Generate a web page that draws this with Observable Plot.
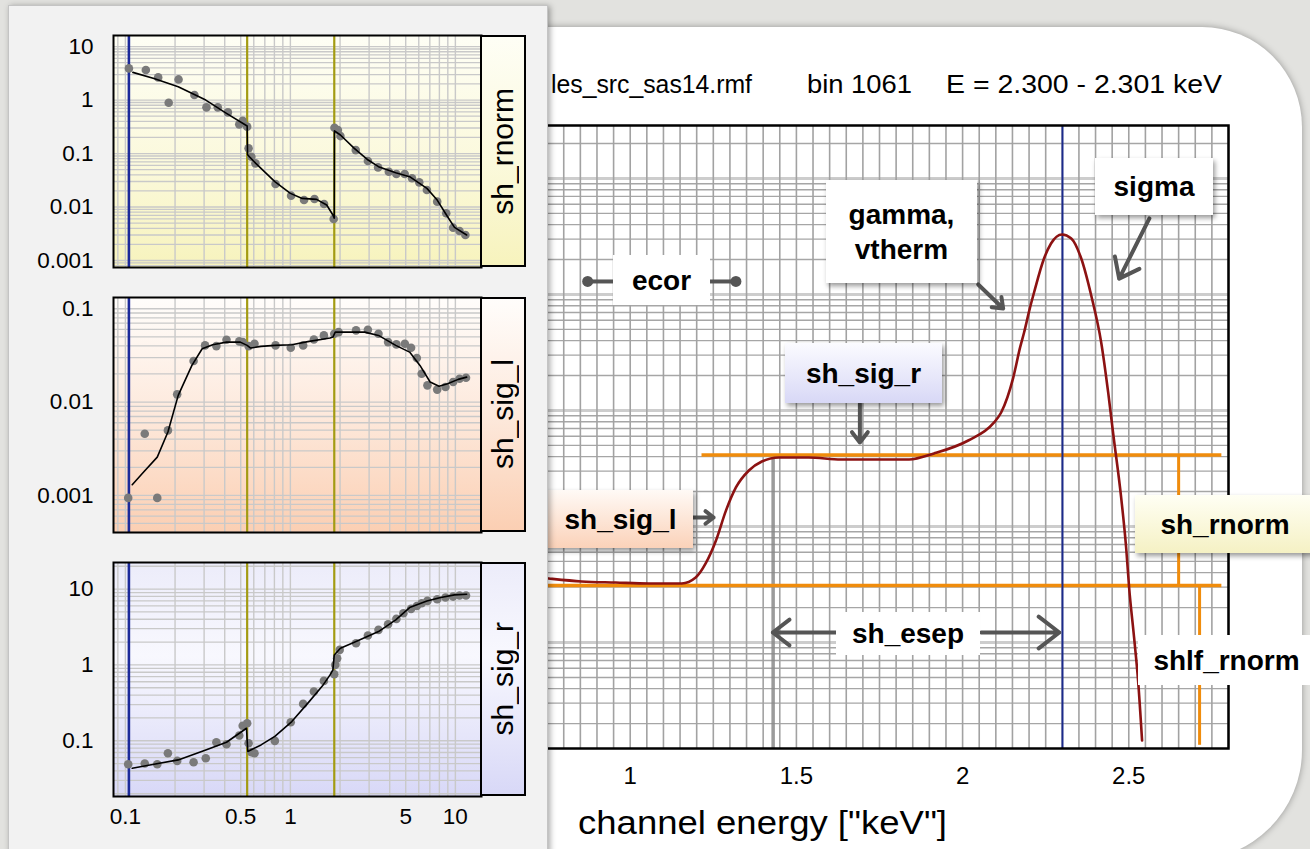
<!DOCTYPE html>
<html><head><meta charset="utf-8">
<script src="https://cdn.jsdelivr.net/npm/d3@7"></script>
<script src="https://cdn.jsdelivr.net/npm/@observablehq/plot@0.6"></script>
<style>
html,body{margin:0;padding:0;}
body{width:1310px;height:849px;overflow:hidden;background:#e2e2df;position:relative;font-family:"Liberation Sans",Arial,sans-serif;color:#000;}
.abs{position:absolute;}
#mainPanel{left:500px;top:27px;width:802px;height:833px;background:#fff;border-radius:0 100px 110px 0;box-shadow:0 0 7px rgba(0,0,0,.35);}
#leftPanel{left:8px;top:5px;width:538px;height:870px;background:#f2f2f2;border:1px solid #c4c4c4;box-shadow:2px 1px 6px rgba(0,0,0,.35);z-index:20;}
.callout{position:absolute;display:flex;align-items:center;justify-content:center;font-weight:bold;font-size:28px;text-align:center;line-height:35px;z-index:10;background:#fff;}
.shadow{box-shadow:2px 3px 5px rgba(0,0,0,.4);}
.bg{position:absolute;z-index:21;}
.strip{position:absolute;z-index:23;box-sizing:border-box;border:2px solid #000;display:flex;align-items:center;justify-content:center;}
.strip span{writing-mode:vertical-rl;transform:rotate(180deg);font-size:30px;}
.small{position:absolute;left:0;z-index:22;}
#main{position:absolute;left:400px;top:0;z-index:5;}
.title{position:absolute;top:70px;font-size:25px;z-index:6;white-space:pre;transform-origin:0 50%;}
</style></head><body>
<div id="mainPanel" class="abs"></div>
<div id="leftPanel" class="abs"></div>
<div id="main"></div>
<script>
// ---------- small panels: x = photon energy (keV), log ----------
const smallXDomain = [0.0847, 14.4];
const smallXTicks = [0.1, 0.5, 1, 5, 10];
const blueLineE = 0.105;
const edgeLinesE = [0.547, 1.845];

// sh_rnorm
const rnormPtsE = [0.105,0.133,0.158,0.183,0.210,0.262,0.310,0.363,0.418,0.490,0.514,0.547,0.558,0.580,0.614,0.813,1.01,1.21,1.40,1.60,1.83,1.85,1.94,2.01,2.49,2.95,3.40,3.95,4.39,4.93,5.46,6.04,6.72,7.76,8.80,9.69,10.6,11.5];
const rnormPtsV = [3.91,3.64,2.65,0.892,2.43,1.24,0.730,0.730,0.588,0.351,0.411,0.318,0.125,0.0873,0.0655,0.0269,0.0163,0.0135,0.0141,0.0114,0.00597,0.304,0.275,0.212,0.116,0.0724,0.0551,0.0457,0.0414,0.0414,0.0344,0.0289,0.0208,0.0126,0.00762,0.00411,0.00356,0.00300];
const rnormFitE = [0.111,0.149,0.209,0.307,0.410,0.547,0.550,0.617,0.805,1.0,1.18,1.44,1.66,1.81,1.845,1.85,2.01,2.44,2.96,3.42,4.35,5.28,6.72,7.76,8.97,9.88,11.7];
const rnormFitV = [3.29,2.54,1.77,1.0,0.563,0.327,0.095,0.0655,0.0298,0.018,0.0145,0.0139,0.0109,0.00708,0.0062,0.265,0.222,0.125,0.0756,0.0568,0.0438,0.0369,0.0223,0.0135,0.00659,0.00417,0.0030];
const rnormYDomain = [7.4e-4, 16.1];
const rnormYTicks = [10, 1, 0.1, 0.01, 0.001];

// sh_sig_l
const sigLPtsE = [0.104,0.131,0.156,0.181,0.206,0.259,0.304,0.356,0.410,0.490,0.514,0.558,0.606,0.813,1.005,1.195,1.388,1.596,1.845,1.96,2.50,2.95,3.42,3.91,4.39,4.94,5.39,5.84,6.25,6.77,7.76,8.71,9.69,10.6,11.6];
const sigLPtsV = [9.4e-4,4.58e-3,9.4e-4,4.97e-3,0.0121,0.0275,0.0405,0.0398,0.0466,0.0447,0.0439,0.0398,0.0422,0.0405,0.0382,0.0405,0.0469,0.0518,0.0540,0.0562,0.0586,0.0596,0.0540,0.0439,0.0415,0.0422,0.0382,0.0296,0.0201,0.0151,0.0136,0.0145,0.0164,0.0178,0.0182];
const sigLFitE = [0.110,0.129,0.156,0.181,0.209,0.253,0.292,0.338,0.410,0.497,0.547,0.574,0.664,0.805,1.02,1.30,1.74,1.81,1.87,2.11,2.82,3.42,4.35,5.28,6.10,7.03,7.96,8.97,10.4,11.7];
const sigLFitV = [1.30e-3,1.78e-3,2.57e-3,4.77e-3,0.0118,0.0247,0.0373,0.0411,0.0439,0.0439,0.0405,0.0379,0.0395,0.0405,0.0411,0.0447,0.0485,0.0497,0.0562,0.0562,0.0562,0.0518,0.0405,0.0343,0.0247,0.0164,0.0148,0.0157,0.0175,0.0185];
const sigLYDomain = [4.0e-4, 0.132];
const sigLYTicks = [0.1, 0.01, 0.001];

// sh_sig_r
const sigRPtsE = [0.104,0.131,0.156,0.181,0.206,0.259,0.307,0.356,0.410,0.490,0.514,0.547,0.558,0.580,0.606,0.805,1.005,1.195,1.388,1.596,1.845,1.87,1.92,1.99,2.50,2.95,3.42,3.91,4.39,4.84,5.39,5.84,6.25,6.77,7.76,8.71,9.69,10.6,11.6];
const sigRPtsV = [0.0490,0.0500,0.0490,0.0684,0.0542,0.0520,0.0588,0.0955,0.0899,0.117,0.158,0.170,0.0927,0.0705,0.0684,0.0995,0.175,0.306,0.445,0.615,0.753,1.0,1.22,1.58,1.93,2.44,2.90,3.44,4.04,4.80,5.48,5.99,6.50,6.98,7.34,7.73,7.96,8.21,8.21];
const sigRFitE = [0.110,0.149,0.209,0.307,0.410,0.542,0.552,0.664,0.805,1.02,1.30,1.58,1.74,1.81,1.845,2.01,2.50,3.42,4.35,5.28,6.72,8.15,9.88,11.7];
const sigRFitV = [0.0434,0.0490,0.0559,0.0757,0.0955,0.146,0.0720,0.0881,0.114,0.179,0.328,0.545,0.738,0.859,1.35,1.66,2.03,2.75,3.92,5.70,6.98,7.73,8.38,8.55];
const sigRYDomain = [0.0184, 22.4];
const sigRYTicks = [10, 1, 0.1];

const panelNames = ["sh_rnorm", "sh_sig_l", "sh_sig_r"];

// ---------- main panel: channel energy (keV) vs response, log ----------
const mainXDomain = [0.7, 2.8];
const mainYDomain = [1.22e-5, 2.86];
const mainXTicks = [1, 1.5, 2, 2.5];
const profileE = [0.70,0.755,0.854,0.956,1.056,1.155,1.197,1.227,1.258,1.288,1.318,1.357,1.396,1.447,1.537,1.634,1.742,1.839,1.914,2.017,2.092,2.116,2.152,2.173,2.185,2.203,2.215,2.245,2.266,2.299,2.327,2.357,2.387,2.417,2.438,2.453,2.477,2.492,2.501,2.516,2.528,2.540];
const profileV = [3.7e-4,3.56e-4,3.36e-4,3.29e-4,3.23e-4,3.23e-4,3.63e-4,4.80e-4,7.57e-4,1.37e-3,2.17e-3,3.04e-3,3.63e-3,3.93e-3,3.93e-3,3.78e-3,3.78e-3,3.78e-3,4.26e-3,5.51e-3,7.73e-3,9.6e-3,0.019,0.035,0.047,0.0773,0.104,0.204,0.275,0.329,0.304,0.204,0.098,0.0386,0.0143,6.33e-3,1.78e-3,6.59e-4,2.98e-4,1.10e-4,4.70e-5,1.43e-5];
const lineEnergy = 2.3005;       // blue line
const shoulderEdgeE = 1.43;      // grey line
const shoulderLevel = 4.13e-3;
const shelfLevel = 3.10e-4;
const orangeHoriz = [ {v: shoulderLevel, e1: 1.216, e2: 2.78}, {v: shelfLevel, e1: 0.70, e2: 2.78} ];
const orangeVert = [ {e: 2.65, v1: shoulderLevel, v2: shelfLevel}, {e: 2.713, v1: shelfLevel, v2: 1.3e-5} ];
// annotation arrows in data space
const annotArrows = [
  {x1: 2.047, y1: 0.122, x2: 2.122, y2: 0.0757},   // gamma, vtherm
  {x1: 2.562, y1: 0.452, x2: 2.471, y2: 0.137},    // sigma
  {x1: 1.691, y1: 0.01148, x2: 1.691, y2: 0.0053}, // sh_sig_r
  {x1: 1.158, y1: 0.001196, x2: 1.251, y2: 0.001196}, // sh_sig_l
  {x1: 1.619, y1: 1.22e-4, x2: 1.429, y2: 1.22e-4}, // sh_esep left
  {x1: 2.056, y1: 1.22e-4, x2: 2.291, y2: 1.22e-4}  // sh_esep right
];
const ecorLinks = [ {x1: 0.872, x2: 0.950, y: 0.1294}, {x1: 1.239, x2: 1.318, y: 0.1294} ];
const ecorDots = [ {x: 0.872, y: 0.1294}, {x: 1.318, y: 0.1294} ];

const callouts = [
  {text: "ecor", l: 613, t: 255, w: 97, h: 50, bg: "#fff", shadow: false},
  {text: "gamma,<br>vtherm", l: 826, t: 180, w: 151, h: 103, bg: "#fff", shadow: true},
  {text: "sigma", l: 1095, t: 158, w: 118, h: 57, bg: "#fff", shadow: true},
  {text: "sh_sig_r", l: 785, t: 343, w: 157, h: 60, bg: "linear-gradient(#fbfbff,#d8d8f6)", shadow: true},
  {text: "sh_sig_l", l: 530, t: 490, w: 163, h: 58, bg: "linear-gradient(#fffaf6,#fbd2b9)", shadow: true, pad: 18},
  {text: "sh_rnorm", l: 1135, t: 495, w: 180, h: 58, bg: "linear-gradient(#fffff4,#f5f1c4)", shadow: true},
  {text: "shlf_rnorm", l: 1138, t: 635, w: 177, h: 50, bg: "#fff", shadow: false},
  {text: "sh_esep", l: 836, t: 612, w: 144, h: 43, bg: "#fff", shadow: false}
];

const FONT = "'Liberation Sans', Arial, sans-serif";
const zip = (E, V) => E.map((e, i) => ({e, v: V[i]}));

// ---------- main plot ----------
const yMinor = d3.scaleLog().domain(mainYDomain).ticks();
const yDecades = yMinor.filter(d => Math.abs(Math.log10(d) - Math.round(Math.log10(d))) < 1e-9);
const xGrid = d3.ticks(mainXDomain[0], mainXDomain[1], 42);
const mainPlot = Plot.plot({
  width: 910, height: 849,
  marginLeft: 130, marginRight: 82, marginTop: 125, marginBottom: 101,
  style: {fontFamily: FONT, background: "transparent", color: "#000", overflow: "visible"},
  x: {domain: mainXDomain, axis: null},
  y: {type: "log", domain: mainYDomain, axis: null},
  marks: [
    Plot.gridY(yMinor, {stroke: "#a6a6a6", strokeOpacity: 1, strokeWidth: 1.4}),
    Plot.gridY(yDecades, {stroke: "#cdcdcd", strokeOpacity: 1, strokeWidth: 3}),
    Plot.gridX(xGrid, {stroke: "#a2a2a2", strokeOpacity: 1, strokeWidth: 1.6}),
    Plot.ruleX([shoulderEdgeE], {y1: 3.8e-3, y2: mainYDomain[0], stroke: "#8a8a8a", strokeOpacity: 0.85, strokeWidth: 3.5}),
    Plot.ruleY(orangeHoriz, {y: "v", x1: "e1", x2: "e2", stroke: "#f08c0c", strokeWidth: 3.5}),
    Plot.ruleX(orangeVert, {x: "e", y1: "v1", y2: "v2", stroke: "#f08c0c", strokeWidth: 3}),
    Plot.ruleX([lineEnergy], {stroke: "#1c2a8c", strokeWidth: 2}),
    Plot.line(zip(profileE, profileV), {x: "e", y: "v", stroke: "#8c1212", strokeWidth: 2.6, curve: "monotone-x"}),
    Plot.frame({stroke: "#000", strokeWidth: 2.5}),
    Plot.axisX(mainXTicks, {tickSize: 0, tickPadding: 18, fontSize: 24, label: null, tickFormat: d3.format("~g")}),
    Plot.link(ecorLinks, {x1: "x1", x2: "x2", y1: "y", y2: "y", stroke: "#555", strokeWidth: 4}),
    Plot.dot(ecorDots, {x: "x", y: "y", r: 5.5, fill: "#555"}),
    Plot.arrow(annotArrows, {x1: "x1", y1: "y1", x2: "x2", y2: "y2", stroke: "#555", strokeWidth: 4, headLength: 16, headAngle: 75})
  ]
});
document.getElementById("main").appendChild(mainPlot);

// ---------- small panels ----------
const smallSpecs = [
  {top: 35, h: 232, yDomain: rnormYDomain, yTicks: rnormYTicks, pts: zip(rnormPtsE, rnormPtsV), fit: zip(rnormFitE, rnormFitV), showX: false,
   grad: "linear-gradient(#fefef5 0%, #fbf9dc 55%, #f7f3bd 100%)"},
  {top: 297, h: 235, yDomain: sigLYDomain, yTicks: sigLYTicks, pts: zip(sigLPtsE, sigLPtsV), fit: zip(sigLFitE, sigLFitV), showX: false,
   grad: "linear-gradient(#fffdfb 0%, #fde9dc 50%, #fbcfb3 100%)"},
  {top: 562, h: 234, yDomain: sigRYDomain, yTicks: sigRYTicks, pts: zip(sigRPtsE, sigRPtsV), fit: zip(sigRFitE, sigRFitV), showX: true,
   grad: "linear-gradient(#ececfa 0%, #f8f8fe 40%, #d8d8f7 100%)"}
];
const xMinorSmall = d3.scaleLog().domain(smallXDomain).ticks();
smallSpecs.forEach((s, i) => {
  const bg = document.createElement("div");
  bg.className = "bg";
  Object.assign(bg.style, {left: "113px", top: s.top + "px", width: "368px", height: s.h + "px", background: s.grad});
  document.body.appendChild(bg);
  const strip = document.createElement("div");
  strip.className = "strip";
  Object.assign(strip.style, {left: "480px", top: s.top + "px", width: "46px", height: s.h + "px", background: s.grad});
  strip.innerHTML = "<span>" + panelNames[i] + "</span>";
  document.body.appendChild(strip);

  const mt = 10, mb = s.showX ? 45 : 10;
  const yMinorS = d3.scaleLog().domain(s.yDomain).ticks();
  const p = Plot.plot({
    width: 526, height: s.h + mt + mb,
    marginLeft: 113, marginRight: 45, marginTop: mt, marginBottom: mb,
    style: {fontFamily: FONT, background: "transparent", color: "#000", overflow: "visible"},
    x: {type: "log", domain: smallXDomain, axis: null},
    y: {type: "log", domain: s.yDomain, axis: null},
    marks: [
      Plot.gridY(yMinorS, {stroke: "#c9c9c9", strokeOpacity: 1, strokeWidth: 1.3}),
      Plot.gridX(xMinorSmall, {stroke: "#c9c9c9", strokeOpacity: 1, strokeWidth: 1.4}),
      Plot.ruleX(edgeLinesE, {stroke: "#a39b12", strokeWidth: 2.2}),
      Plot.ruleX([blueLineE], {stroke: "#1c2a9a", strokeWidth: 2.6}),
      Plot.dot(s.pts, {x: "e", y: "v", r: 4.3, fill: "#7a7a7a", stroke: "none"}),
      Plot.line(s.fit, {x: "e", y: "v", stroke: "#000", strokeWidth: 1.6}),
      Plot.frame({stroke: "#000", strokeWidth: 2}),
      Plot.text(s.yTicks, {y: d => d, frameAnchor: "left", dx: -20, textAnchor: "end", fontSize: 22.5, fill: "#000", text: d => d3.format("~g")(d)}),
      s.showX ? Plot.text(smallXTicks, {x: d => d, frameAnchor: "bottom", dy: 27, fontSize: 22.5, fill: "#000", text: d => d3.format("~g")(d)}) : null
    ]
  });
  p.classList.add("small");
  p.style.top = (s.top - mt) + "px";
  document.body.appendChild(p);
});

// ---------- titles and callouts ----------
const titleParts = [ {t: "les_src_sas14.rmf", l: 551, w: 201}, {t: "bin 1061", l: 807, w: 105}, {t: "E = 2.300 - 2.301 keV", l: 946, w: 276} ];
function fitText(d, w) {
  const r = d.getBoundingClientRect().width;
  if (r > 0) d.style.transform = "scaleX(" + (w / r) + ")";
}
titleParts.forEach(p => {
  const d = document.createElement("div");
  d.className = "title"; d.textContent = p.t; d.style.left = p.l + "px";
  document.body.appendChild(d);
  fitText(d, p.w);
});
const xl = document.createElement("div");
xl.className = "title";
Object.assign(xl.style, {left: "578px", top: "804px", fontSize: "33px"});
xl.textContent = 'channel energy ["keV"]';
document.body.appendChild(xl);
fitText(xl, 369);

callouts.forEach(c => {
  const d = document.createElement("div");
  d.className = "callout" + (c.shadow ? " shadow" : "");
  Object.assign(d.style, {left: c.l + "px", top: c.t + "px", width: c.w + "px", height: c.h + "px", background: c.bg});
  if (c.pad) { d.style.paddingLeft = c.pad + "px"; d.style.boxSizing = "border-box"; }
  d.innerHTML = c.text;
  document.body.appendChild(d);
});
</script>
</body></html>
